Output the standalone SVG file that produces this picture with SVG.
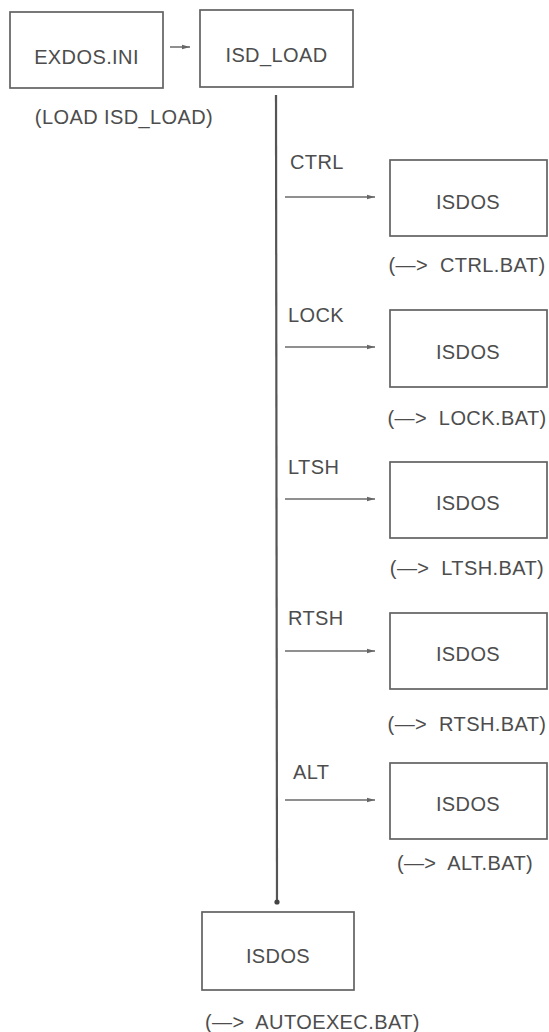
<svg xmlns="http://www.w3.org/2000/svg" width="549" height="1032" viewBox="0 0 549 1032">
<defs>
<style>
.box{fill:none;stroke:#626262;stroke-width:1.7}
.t{font-family:"Liberation Sans",Arial,sans-serif;font-size:20px;fill:#4d4d4d;letter-spacing:0.4px}
.m{text-anchor:middle}
.ln{stroke:#6a6a6a;stroke-width:1.5;fill:none}
.vl{stroke:#555;stroke-width:2.2;fill:none}
</style>
<marker id="ah" viewBox="0 0 8 6" refX="8" refY="3" markerWidth="8" markerHeight="6" markerUnits="userSpaceOnUse" orient="auto">
<path d="M0,0.8 L8,3 L0,5.2 Z" fill="#666"/>
</marker>
<marker id="dot" viewBox="0 0 6 6" refX="3" refY="3" markerWidth="6" markerHeight="6" markerUnits="userSpaceOnUse" orient="auto">
<circle cx="3" cy="3" r="2.6" fill="#444"/>
</marker>
</defs>
<rect width="549" height="1032" fill="#fff"/>
<g id="connectors">
<line class="ln" x1="170" y1="47" x2="190" y2="47" marker-end="url(#ah)"/>
<line class="vl" x1="276" y1="95" x2="277" y2="902" marker-end="url(#dot)"/>
<line class="ln" x1="285" y1="197" x2="375" y2="197" marker-end="url(#ah)"/>
<line class="ln" x1="285" y1="347" x2="375" y2="347" marker-end="url(#ah)"/>
<line class="ln" x1="285" y1="499" x2="375" y2="499" marker-end="url(#ah)"/>
<line class="ln" x1="285" y1="651" x2="375" y2="651" marker-end="url(#ah)"/>
<line class="ln" x1="285" y1="800" x2="375" y2="800" marker-end="url(#ah)"/>
<text class="t" x="290" y="169">CTRL</text>
<text class="t" x="288" y="322">LOCK</text>
<text class="t" x="288" y="474">LTSH</text>
<text class="t" x="288" y="625">RTSH</text>
<text class="t" x="293" y="779">ALT</text>
</g>
<g id="exdos">
<rect class="box" x="10" y="12" width="153" height="76"/>
<text class="t m" x="86.5" y="64">EXDOS.INI</text>
<text class="t m" x="124" y="124">(LOAD ISD_LOAD)</text>
</g>
<g id="isd_load">
<rect class="box" x="200" y="10" width="153" height="77"/>
<text class="t m" x="276.5" y="62">ISD_LOAD</text>
</g>
<g id="isdos_ctrl">
<rect class="box" x="390" y="160" width="157" height="76"/>
<text class="t m" x="468" y="209">ISDOS</text>
<text class="t m" x="467" y="272">(—&gt;&#160; CTRL.BAT)</text>
</g>
<g id="isdos_lock">
<rect class="box" x="390" y="310" width="157" height="77"/>
<text class="t m" x="468" y="359">ISDOS</text>
<text class="t m" x="467" y="425">(—&gt;&#160; LOCK.BAT)</text>
</g>
<g id="isdos_ltsh">
<rect class="box" x="390" y="462" width="157" height="76"/>
<text class="t m" x="468" y="510">ISDOS</text>
<text class="t m" x="467" y="575">(—&gt;&#160; LTSH.BAT)</text>
</g>
<g id="isdos_rtsh">
<rect class="box" x="390" y="613" width="157" height="76"/>
<text class="t m" x="468" y="661">ISDOS</text>
<text class="t m" x="467" y="731">(—&gt;&#160; RTSH.BAT)</text>
</g>
<g id="isdos_alt">
<rect class="box" x="390" y="763" width="157" height="76"/>
<text class="t m" x="468" y="811">ISDOS</text>
<text class="t m" x="465" y="870">(—&gt;&#160; ALT.BAT)</text>
</g>
<g id="isdos_autoexec">
<rect class="box" x="202" y="912" width="152" height="78"/>
<text class="t m" x="278" y="963">ISDOS</text>
<text class="t" x="205" y="1029">(—&gt;&#160; AUTOEXEC.BAT)</text>
</g>
</svg>
